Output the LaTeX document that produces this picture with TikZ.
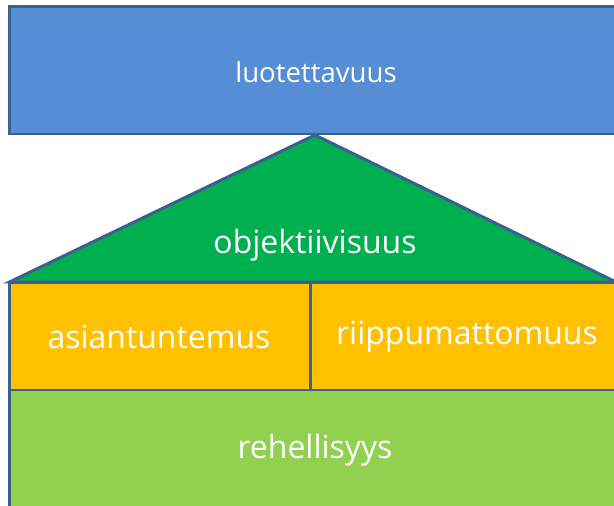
\documentclass[tikz,border=0pt]{standalone}
\usepackage{fontspec}
\setmainfont{Open Sans}
\definecolor{rimblue}{HTML}{3B5F8E}
\definecolor{topblue}{HTML}{558ED5}
\definecolor{roofgreen}{HTML}{00B050}
\definecolor{pillarorange}{HTML}{FFC000}
\definecolor{basegreen}{HTML}{92D050}
\tikzset{
  block/.style={draw=rimblue, line width=1.7pt},
  label text/.style={text=white, font=\fontsize{18.2}{22}\selectfont},
  top text/.style={text=white, font=\fontsize{15.7}{19}\selectfont},
}
\begin{document}
\begin{tikzpicture}[x=0.02cm,y=-0.02cm]
                \useasboundingbox (0,0) rectangle (614,506);
                \clip (0,0) rectangle (614,506);
                \draw [block, fill=basegreen] (9.5,390) rectangle (625,520);
                \draw [block, fill=pillarorange] (9.5,283) rectangle (310,390);
                \draw [block, fill=pillarorange] (310,283) rectangle (625,390);
                \draw [block, fill=roofgreen, line join=miter] (9.5,282) -- (315,135) -- (616,282) -- cycle;
                \draw [block, fill=topblue] (9.5,6.5) rectangle (625,134);
                \node [top text] (top) at (316,72) {luotettavuus};
                \node [label text] (roof) at (315,245) {objektiivisuus};
                \node [label text] (left) at (159,337) {asiantuntemus};
                \node [label text] (right) at (467,337) {riippumattomuus};
                \node [label text] (base) at (315,450) {rehellisyys};
            \end{tikzpicture}
\end{document}
